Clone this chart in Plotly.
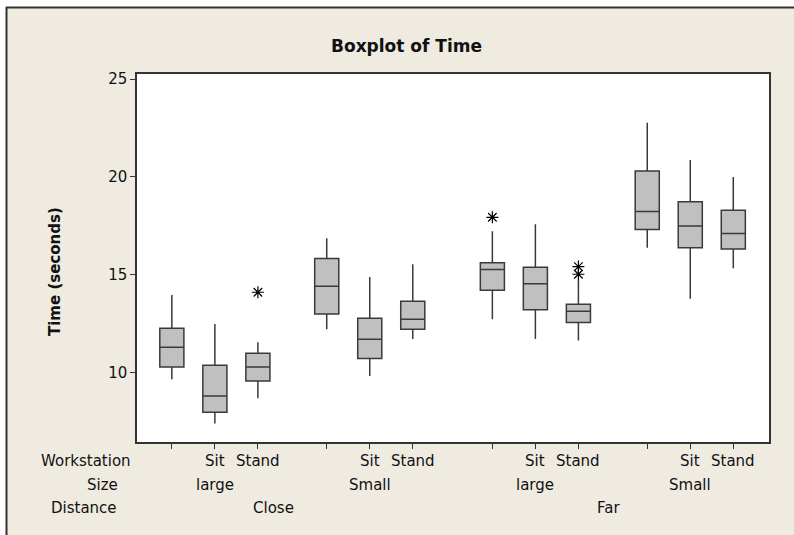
import plotly.graph_objects as go

# ---- data ----
distance = ["Close", "Far"]
size = ["large", "Small"]
workstation = ["", "Sit", "Stand"]

q1 = [10.29, 7.98, 9.58, 13.00, 10.72, 12.22, 14.21, 13.21, 12.56, 17.31, 16.39, 16.32]
median = [11.30, 8.81, 10.29, 14.42, 11.71, 12.73, 15.27, 14.55, 13.14, 18.23, 17.49, 17.11]
q3 = [12.27, 10.38, 11.00, 15.83, 12.78, 13.65, 15.62, 15.39, 13.50, 20.31, 18.74, 18.30]
lower_whisker = [9.66, 7.41, 8.69, 12.22, 9.83, 11.72, 12.73, 11.72, 11.64, 16.39, 13.78, 15.34]
upper_whisker = [13.97, 12.49, 11.55, 16.87, 14.89, 15.54, 17.23, 17.59, 14.74, 22.77, 20.87, 20.00]
outliers = [[], [], [14.11], [], [], [], [17.94], [], [15.42, 15.03], [], [], []]

y_ticks = [10, 15, 20, 25]

# ---- layout helpers ----
W, H = 794, 535
L, R, T, B = 137, 769, 74, 442   # plot area in px
FONT = "DejaVu Sans"
BG = "#EFEBE1"

pos = []
labels_ws = []
for d in range(len(distance)):
    for s in range(len(size)):
        for w in range(len(workstation)):
            pos.append(3 * (2 * d + s) + w + 0.6 * s + 1.45 * d)
            labels_ws.append(workstation[w])

def py(px):
    return 1 - (px - T) / (B - T)

def pxx(px):
    return (px - L) / (R - L)

fig = go.Figure()

fig.add_trace(go.Box(
    x=pos, q1=q1, median=median, q3=q3,
    lowerfence=lower_whisker, upperfence=upper_whisker,
    width=0.56, whiskerwidth=0, boxpoints=False,
    fillcolor="#C0C0C0", line=dict(color="#3A3A3A", width=1.5),
    showlegend=False, hoverinfo="skip",
))

ox, oy = [], []
for p, vals in zip(pos, outliers):
    for v in vals:
        ox.append(p)
        oy.append(v)
fig.add_trace(go.Scatter(
    x=ox, y=oy, mode="markers",
    marker=dict(symbol="asterisk-open", size=10, color="black",
                line=dict(color="black", width=1.2)),
    showlegend=False, hoverinfo="skip",
))

ann = []
for p, lab in zip(pos, labels_ws):
    if lab:
        ann.append(dict(x=p, y=py(461), xref="x", yref="paper", text=lab,
                        showarrow=False, xanchor="center", yanchor="middle",
                        font=dict(family=FONT, size=15, color="#111")))
for d in range(len(distance)):
    for s in range(len(size)):
        idx = (2 * d + s) * 3 + 1
        ann.append(dict(x=pos[idx], y=py(485), xref="x", yref="paper", text=size[s],
                        showarrow=False, xanchor="center", yanchor="middle",
                        font=dict(family=FONT, size=15, color="#111")))
dist_x = [pos[2] + 0.37, pos[8] + 0.71]
for d in range(len(distance)):
    ann.append(dict(x=dist_x[d], y=py(508), xref="x", yref="paper", text=distance[d],
                    showarrow=False, xanchor="center", yanchor="middle",
                    font=dict(family=FONT, size=15, color="#111")))
for txt, rx, ry in [("Workstation", 133, 461), ("Size", 120, 485), ("Distance", 119, 508)]:
    ann.append(dict(x=pxx(rx), y=py(ry), xref="paper", yref="paper", text=txt,
                    showarrow=False, xanchor="right", yanchor="middle",
                    font=dict(family=FONT, size=15, color="#111")))
ann.append(dict(x=pxx(55), y=py(272), xref="paper", yref="paper", text="<b>Time (seconds)</b>",
                textangle=-90, showarrow=False, xanchor="center", yanchor="middle",
                font=dict(family=FONT, size=15, color="#111")))
ann.append(dict(x=pxx(406), y=py(46), xref="paper", yref="paper", text="<b>Boxplot of Time</b>",
                showarrow=False, xanchor="center", yanchor="middle",
                font=dict(family=FONT, size=17, color="#111")))

shapes = [
    dict(type="rect", xref="paper", yref="paper", x0=pxx(-5), x1=pxx(800), y0=py(7), y1=py(-5),
         fillcolor="white", line=dict(width=0), layer="below"),
    dict(type="rect", xref="paper", yref="paper", x0=pxx(-5), x1=pxx(6), y0=py(540), y1=py(-5),
         fillcolor="white", line=dict(width=0), layer="below"),
    dict(type="line", xref="paper", yref="paper", x0=pxx(6), x1=pxx(800), y0=py(7.5), y1=py(7.5),
         line=dict(color="#333333", width=2)),
    dict(type="line", xref="paper", yref="paper", x0=pxx(6.5), x1=pxx(6.5), y0=py(7), y1=py(540),
         line=dict(color="#333333", width=2)),
]

fig.update_layout(
    width=W, height=H,
    margin=dict(l=L, r=W - R, t=T, b=H - B, pad=0),
    paper_bgcolor=BG, plot_bgcolor="white",
    font=dict(family=FONT, size=15, color="#111"),
    annotations=ann, shapes=shapes,
    xaxis=dict(range=[-0.81, 13.88], tickvals=pos, ticktext=[""] * len(pos),
               ticks="outside", ticklen=5, tickcolor="#333", showgrid=False, zeroline=False,
               showline=True, linecolor="#333", linewidth=1.5, mirror=True, fixedrange=True),
    yaxis=dict(range=[6.46, 25.26], tickvals=y_ticks, ticks="outside", ticklen=5, tickcolor="#333",
               showgrid=False, zeroline=False, showline=True, linecolor="#333", linewidth=1.5,
               mirror=True, tickfont=dict(family=FONT, size=15, color="#111"), fixedrange=True),
)

fig.write_html(
    "out.html",
    config={"displayModeBar": False},
    post_script="document.body.style.margin='0';document.body.style.overflow='hidden';",
)
